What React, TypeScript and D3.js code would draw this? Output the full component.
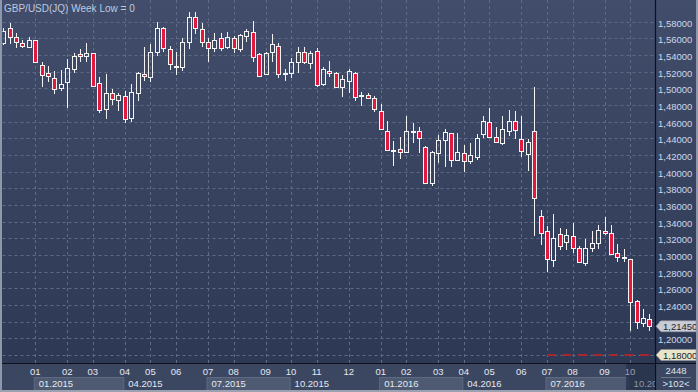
import React from "react";
import * as d3 from "d3";

const W = 698;
const H = 392;

// Weekly GBP/USD candles (102 visible weeks)
const opens = [
  1.5544, 1.572, 1.5616, 1.5544, 1.55, 1.558, 1.528, 1.5188, 1.512, 1.5, 1.508, 1.5228, 1.5412, 1.5384, 1.542,
  1.506, 1.4748, 1.4948, 1.4856, 1.4912, 1.464, 1.4944, 1.5172, 1.514, 1.5436, 1.572, 1.5468, 1.5268, 1.526,
  1.5552, 1.586, 1.5712, 1.5552, 1.5488, 1.56, 1.55, 1.56, 1.5472, 1.5632, 1.5672, 1.5408, 1.5172, 1.5432,
  1.5512, 1.5184, 1.518, 1.5312, 1.5432, 1.53, 1.5448, 1.5048, 1.5212, 1.518, 1.502, 1.5092, 1.518, 1.4914,
  1.4924, 1.488, 1.4732, 1.4492, 1.426, 1.4268, 1.4232, 1.4488, 1.4492, 1.4292, 1.3868, 1.422, 1.438, 1.446,
  1.414, 1.422, 1.4128, 1.4172, 1.4452, 1.4592, 1.442, 1.4348, 1.4492, 1.4612, 1.4388, 1.4212, 1.4488, 1.3468,
  1.3288, 1.294, 1.3252, 1.3152, 1.3228, 1.308, 1.2908, 1.308, 1.314, 1.3292, 1.326, 1.302, 1.2976, 1.2948,
  1.2448, 1.218, 1.2228,
];
const highs = [
  1.5724, 1.5788, 1.5664, 1.5586, 1.562, 1.5586, 1.532, 1.5268, 1.5208, 1.522, 1.5352, 1.5428, 1.5472, 1.5548,
  1.5424, 1.5132, 1.5172, 1.4988, 1.4948, 1.4972, 1.5052, 1.52, 1.5492, 1.5528, 1.58, 1.574, 1.5508, 1.5432,
  1.56, 1.592, 1.592, 1.578, 1.5608, 1.566, 1.5668, 1.568, 1.5632, 1.5652, 1.5712, 1.5808, 1.5424, 1.544,
  1.5648, 1.554, 1.5232, 1.536, 1.55, 1.55, 1.5448, 1.5488, 1.526, 1.5328, 1.52, 1.516, 1.5228, 1.5196,
  1.4956, 1.494, 1.4908, 1.4812, 1.4608, 1.4368, 1.4412, 1.4668, 1.4588, 1.4532, 1.4308, 1.4252, 1.444,
  1.4512, 1.4468, 1.4468, 1.432, 1.4348, 1.4452, 1.4668, 1.476, 1.4532, 1.4668, 1.474, 1.4728, 1.4668,
  1.4388, 1.502, 1.354, 1.3348, 1.3492, 1.332, 1.3312, 1.338, 1.3108, 1.3188, 1.3288, 1.336, 1.346, 1.336,
  1.3132, 1.3068, 1.2952, 1.246, 1.2348, 1.2292,
];
const lows = [
  1.552, 1.5532, 1.548, 1.5488, 1.5492, 1.5316, 1.502, 1.5072, 1.4932, 1.4972, 1.476, 1.5188, 1.5312, 1.532,
  1.5024, 1.47, 1.4628, 1.48, 1.4732, 1.458, 1.4592, 1.4852, 1.5092, 1.508, 1.5388, 1.5432, 1.522, 1.516,
  1.5208, 1.5472, 1.5648, 1.55, 1.532, 1.544, 1.5448, 1.5472, 1.542, 1.544, 1.5552, 1.532, 1.5148, 1.516,
  1.532, 1.5128, 1.5088, 1.5128, 1.518, 1.5288, 1.5232, 1.502, 1.5032, 1.514, 1.5016, 1.4892, 1.4948, 1.4852,
  1.4792, 1.4868, 1.472, 1.4504, 1.4252, 1.4068, 1.4148, 1.4228, 1.4348, 1.4228, 1.3852, 1.3828, 1.4108,
  1.4052, 1.4052, 1.4132, 1.4, 1.4092, 1.414, 1.44, 1.4412, 1.434, 1.432, 1.4428, 1.4388, 1.418, 1.4012,
  1.3228, 1.312, 1.28, 1.286, 1.306, 1.306, 1.3028, 1.2908, 1.2868, 1.304, 1.3068, 1.324, 1.3, 1.292, 1.292,
  1.2092, 1.2108, 1.214, 1.2092,
];
const closes = [
  1.5694, 1.5612, 1.5552, 1.5508, 1.558, 1.532, 1.516, 1.5148, 1.4988, 1.5048, 1.524, 1.5388, 1.5384, 1.542,
  1.5028, 1.474, 1.494, 1.4868, 1.4916, 1.4628, 1.4952, 1.518, 1.5144, 1.544, 1.572, 1.548, 1.5292, 1.5272,
  1.5552, 1.586, 1.5728, 1.5552, 1.548, 1.558, 1.5488, 1.5612, 1.5488, 1.564, 1.5688, 1.538, 1.5152, 1.542,
  1.5528, 1.5168, 1.519, 1.5312, 1.5432, 1.5312, 1.542, 1.504, 1.5232, 1.518, 1.502, 1.5108, 1.5212, 1.4892,
  1.492, 1.4884, 1.4748, 1.4508, 1.426, 1.4264, 1.424, 1.4492, 1.4494, 1.44, 1.3868, 1.4232, 1.438, 1.448,
  1.414, 1.4232, 1.4128, 1.42, 1.44, 1.4608, 1.442, 1.436, 1.4508, 1.4612, 1.45, 1.4252, 1.4352, 1.368,
  1.3268, 1.2956, 1.32, 1.3112, 1.324, 1.308, 1.292, 1.308, 1.314, 1.33, 1.3268, 1.3008, 1.2972, 1.2982,
  1.244, 1.22, 1.224, 1.2145,
];

// x-axis ticks (candle index of first week of each month)
const monthTickIdx = [5, 10, 14, 19, 23, 27, 32, 36, 41, 45, 49, 54, 59, 63, 68, 72, 76, 81, 85, 89, 94, 98];
const monthLabels = ["01", "02", "03", "04", "05", "06", "07", "08", "09", "10", "11", "12",
  "01", "02", "03", "04", "05", "06", "07", "08", "09", "10"];
const quarterIdx = [5, 19, 32, 45, 59, 72, 85, 98];
const quarterLabels = ["01.2015", "04.2015", "07.2015", "10.2015", "01.2016", "04.2016", "07.2016", "10.2016"];
const priceTicks = [1.2, 1.22, 1.24, 1.26, 1.28, 1.3, 1.32, 1.34, 1.36, 1.38, 1.4, 1.42, 1.44, 1.46,
  1.48, 1.5, 1.52, 1.54, 1.56, 1.58];
const gridPrices = [1.18, ...priceTicks];
const lastPrice = 1.2145;
const lowLevel = 1.18;
const lowLevelStartIdx = 85;
const totalBars = "2448";
const visibleBars = ">102<";
const title = "GBP/USD(JQ) Week Low = 0";

const plotL = 2.5;
const plotR = 655;
const plotT = 0;
const plotB = 363;
const FONT = "'Liberation Sans', Arial, sans-serif";
const RED = "#e2183c";
const WHITE = "#f4f4f4";

const fmt = (v: number) => v.toFixed(5).replace(".", ",");

export default function App() {
  const n = closes.length;
  const x = d3.scaleLinear().domain([0, n - 1]).range([3.3, 649.3]);
  const y = d3.scaleLinear().domain([1.18, 1.58]).range([355, 21.7]);
  const px = (i: number) => Math.round(x(i)) + 0.5;

  const candles = d3.range(n).map((i) => {
    const o = opens[i], c = closes[i], h = highs[i], l = lows[i];
    const up = c >= o;
    const top = Math.round(y(Math.max(o, c))) + 0.5;
    let bot = Math.round(y(Math.min(o, c))) + 0.5;
    if (bot - top < 1) bot = top + 1;
    const cx = px(i);
    const yh = Math.round(y(h));
    const yl = Math.round(y(l));
    return (
      <g key={i}>
        {up ? (
          <>
            <line x1={cx} x2={cx} y1={yh} y2={top} stroke={WHITE} strokeWidth={1} />
            <line x1={cx} x2={cx} y1={bot} y2={yl} stroke={WHITE} strokeWidth={1} />
          </>
        ) : (
          <line x1={cx} x2={cx} y1={yh} y2={yl} stroke={WHITE} strokeWidth={1} />
        )}
        <rect x={cx - 2} y={top} width={4} height={bot - top} fill={up ? "none" : RED} stroke={WHITE} strokeWidth={1} />
      </g>
    );
  });

  const lastY = y(lastPrice);
  const lowY = y(lowLevel);

  const tag = (yy: number, label: string, fill: string) => (
    <g>
      <path
        d={`M${plotR + 1},${yy} L${plotR + 6},${yy - 5.5} L${W - 2},${yy - 5.5} L${W - 2},${yy + 5.5} L${plotR + 6},${yy + 5.5} Z`}
        fill={fill}
        stroke="#8d93a0"
        strokeWidth={0.6}
      />
      <text x={plotR + 8} y={yy + 3.5} fontSize={9.5} fill="#1e2330" fontFamily={FONT}>
        {label}
      </text>
    </g>
  );

  // the last quarter label is cut off by the right axis panel in the original
  const quarterText = (k: number) =>
    k === quarterLabels.length - 1 ? quarterLabels[k].slice(0, 5) : quarterLabels[k];

  return (
    <svg width={W} height={H} style={{ position: "absolute", left: 0, top: 0, display: "block" }}>
      <defs>
        <linearGradient id="bg" x1="0" y1="0" x2="0" y2="1">
          <stop offset="0" stopColor="#414d6a" />
          <stop offset="1" stopColor="#2c3753" />
        </linearGradient>
        <clipPath id="plotClip">
          <rect x={plotL} y={plotT} width={plotR - plotL} height={plotB - plotT} />
        </clipPath>
        <clipPath id="axisClip">
          <rect x={0} y={plotB} width={plotR} height={H - plotB} />
        </clipPath>
      </defs>
      <rect x={0} y={0} width={W} height={H} fill="url(#bg)" />
      {/* bottom axis band */}
      <rect x={0} y={plotB} width={W} height={H - plotB} fill="#3b4660" />

      {/* grid */}
      <g clipPath="url(#plotClip)">
        {gridPrices.map((p) => (
          <line key={p} x1={plotL} x2={plotR} y1={Math.round(y(p)) + 0.5} y2={Math.round(y(p)) + 0.5}
            stroke="#5f6b86" strokeWidth={1} strokeDasharray="3,3" />
        ))}
        {monthTickIdx.map((i) => (
          <line key={i} x1={px(i)} x2={px(i)} y1={plotT} y2={plotB}
            stroke="#5f6b86" strokeWidth={1} strokeDasharray="3,3" />
        ))}
        <line x1={x(lowLevelStartIdx)} x2={plotR} y1={Math.round(lowY)} y2={Math.round(lowY)}
          stroke="#a8262e" strokeWidth={2} strokeDasharray="9,6.5" />
        {candles}
      </g>

      {/* title */}
      <text x={4} y={11.5} fontSize={10} fill="#bccae0" fontFamily={FONT}>{title}</text>

      {/* right axis */}
      <line x1={plotR + 0.5} x2={plotR + 0.5} y1={0} y2={H} stroke="#0c111c" strokeWidth={1.2} />
      {priceTicks.map((p) => (
        <text key={p} x={plotR + 3} y={y(p) + 5} fontSize={9.5} fill="#cdd7ea" fontFamily={FONT}>
          {fmt(p)}
        </text>
      ))}
      {tag(lastY, fmt(lastPrice), "#c9ccd3")}
      {tag(lowY, fmt(lowLevel), "#e9e5c6")}

      {/* bottom axis */}
      <line x1={0} x2={W} y1={plotB + 0.5} y2={plotB + 0.5} stroke="#0c111c" strokeWidth={1.2} />
      {quarterIdx.map((qi, k) =>
        k % 2 === 0 && k < quarterIdx.length - 1 ? (
          <rect key={"qb" + k} x={x(qi) - 1} y={377.5} width={x(quarterIdx[k + 1]) - x(qi)} height={H - 377.5}
            fill="#4e5a72" stroke="#5f6a82" strokeWidth={1} />
        ) : null
      )}
      <rect x={x(98) - 4} y={plotB + 1} width={plotR - x(98) + 4} height={H - plotB - 1} fill="#28324b" opacity={0.85} />
      <g fontFamily={FONT} fontSize={9.5}>
        {monthTickIdx.map((i, k) => (
          <text key={"m" + k} x={x(i)} y={375} textAnchor="middle" fill={i === 98 ? "#9aa3b4" : "#e4e9f1"}>
            {monthLabels[k]}
          </text>
        ))}
      </g>
      <g clipPath="url(#axisClip)">
        {quarterIdx.map((qi, k) => (
          <text key={"q" + k} x={x(qi) + 3.5} y={386.5} fontSize={9.5} fontFamily={FONT}
            fill={k === quarterIdx.length - 1 ? "#8e97a8" : "#e4e9f1"}>
            {quarterText(k)}
          </text>
        ))}
      </g>
      {/* bar count box */}
      <text x={676} y={374} textAnchor="middle" fontSize={9.5} fill="#dde3ec" fontFamily={FONT}>{totalBars}</text>
      <line x1={661} x2={691} y1={377.5} y2={377.5} stroke="#6c7790" strokeWidth={1} />
      <text x={676} y={387} textAnchor="middle" fontSize={9.5} fill="#dde3ec" fontFamily={FONT}>{visibleBars}</text>

      {/* frame */}
      <rect x={0} y={0} width={2} height={H} fill="#8f98aa" />
      <rect x={0} y={H - 2} width={W} height={2} fill="#9aa2b2" />
      <rect x={W - 2} y={0} width={2} height={H} fill="#8f98aa" />
    </svg>
  );
}
